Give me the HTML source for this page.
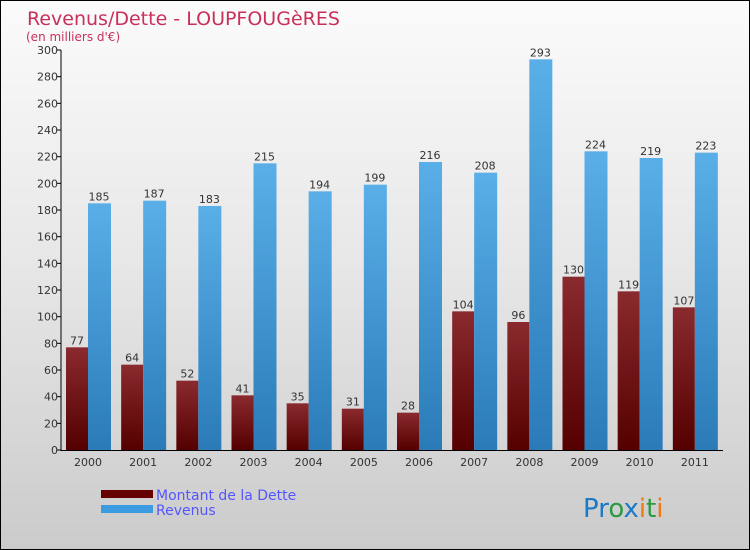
<!DOCTYPE html>
<html><head><meta charset="utf-8"><style>
body{margin:0;}
#wrap{width:748px;height:548px;border:1px solid #000;background:linear-gradient(#fbfbfb,#e6e6e6 50%,#cbcbcb);position:relative;overflow:hidden;font-family:"DejaVu Sans","Liberation Sans",sans-serif;}
</style></head><body>
<div id="wrap">
<svg id="svg" width="748" height="548">
<defs>
<linearGradient id="gr" x1="0" y1="0" x2="0" y2="1"><stop offset="0" stop-color="#8a2a2e"/><stop offset="1" stop-color="#550000"/></linearGradient>
<linearGradient id="gb" x1="0" y1="0" x2="0" y2="1"><stop offset="0" stop-color="#5aafe8"/><stop offset="1" stop-color="#2a7bb8"/></linearGradient>
</defs>
<text x="26" y="24" font-size="19" fill="#c8305a">Revenus/Dette - LOUPFOUGèRES</text>
<text x="25" y="40" font-size="12" fill="#c8305a">(en milliers d'€)</text>
<g id="plot"></g>
<rect x="100" y="489" width="52" height="8" fill="#660000"/>
<text x="155" y="499" font-size="14" fill="#5555ff">Montant de la Dette</text>
<rect x="100" y="504" width="52" height="8" fill="#3a9be0"/>
<text x="155" y="514" font-size="14" fill="#5555ff">Revenus</text>
<text x="582" y="516" font-size="26" font-family="DejaVu Sans"><tspan fill="#1a7ac8">Pr</tspan><tspan fill="#2a9a40">o</tspan><tspan fill="#1a7ac8">x</tspan><tspan fill="#f07a10">i</tspan><tspan fill="#2a9a40">t</tspan><tspan fill="#f07a10">i</tspan></text>
</svg>
</div>
<script>
const years=["2000","2001","2002","2003","2004","2005","2006","2007","2008","2009","2010","2011"];
const dette=[77,64,52,41,35,31,28,104,96,130,119,107];
const revenus=[185,187,183,215,194,199,216,208,293,224,219,223];
const yTicks=[0,20,40,60,80,100,120,140,160,180,200,220,240,260,280,300];
const NS="http://www.w3.org/2000/svg";
const g=document.getElementById('plot');
const x0=60,x1=722,yb=449,yt=49,ymax=300;
const y=v=>yb-(v/ymax)*(yb-yt);
const step=(x1-x0)/years.length;
function mk(t,a,txt){const e=document.createElementNS(NS,t);for(const k in a)e.setAttribute(k,a[k]);if(txt!==undefined)e.textContent=txt;g.appendChild(e);return e;}
yTicks.forEach(v=>{
 const t=mk('line',{x1:x0-4,x2:x0,y1:y(v),y2:y(v),stroke:'#000'});
 
 
 const l=mk('text',{x:x0-3,y:y(v)+4,'font-size':11,fill:'#333','text-anchor':'end'},v);
 
 
});
years.forEach((yr,i)=>{
 const gx=x0+i*step+5;
 const r=mk('rect',{x:gx,y:y(dette[i]),width:22,height:yb-y(dette[i]),fill:'url(#gr)'});
 
 
 const b=mk('rect',{x:gx+22,y:y(revenus[i]),width:23,height:yb-y(revenus[i]),fill:'url(#gb)'});
 
 
 const t1=mk('text',{x:gx+11,y:y(dette[i])-3,'font-size':11,fill:'#333','text-anchor':'middle'},dette[i]);
 
 
 const t2=mk('text',{x:gx+33,y:y(revenus[i])-3,'font-size':11,fill:'#333','text-anchor':'middle'},revenus[i]);
 
 
 const xl=mk('text',{x:gx+22,y:465,'font-size':11,fill:'#333','text-anchor':'middle'},yr);
 
 
});
const ya=mk('line',{x1:x0,x2:x0,y1:yt,y2:yb+1,stroke:'#000'});


const xa=mk('line',{x1:x0,x2:x1,y1:yb+0.5,y2:yb+0.5,stroke:'#000'});


</script>
</body></html>
